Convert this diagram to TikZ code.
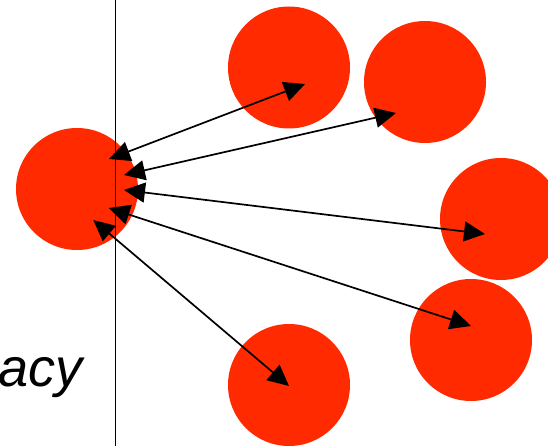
\documentclass[tikz,border=0pt]{standalone}
\usepackage{fontspec}
\setmainfont{Liberation Sans}
\usetikzlibrary{arrows.meta}
\definecolor{ball}{RGB}{255,42,0}
\begin{document}
\begin{tikzpicture}[x=1pt,y=-1pt,
  ball/.style={circle,fill=ball,minimum size=122pt,inner sep=0pt,draw=none},
  link/.style={line width=1.7pt,{Triangle[length=21pt,width=20pt]}-{Triangle[length=21pt,width=20pt]}}]
  \useasboundingbox (0,0) rectangle (548,446);
  \begin{scope}
    \clip (0,0) rectangle (548,446);
    % particles
    \node[ball] (c) at (77,189) {};
    \node[ball] (a) at (289,67.5) {};
    \node[ball] (b) at (425,82) {};
    \node[ball] (r) at (501,219) {};
    \node[ball] (d) at (471,340) {};
    \node[ball] (e) at (289,385) {};
    % wall
    \coordinate (wtop) at (115.7,0);
    \coordinate (wbot) at (115.7,446);
    \draw[line width=0.9pt] (wtop) -- (wbot);
    % label
    \node[anchor=base west,inner sep=0pt,font=\fontsize{54}{62}\selectfont\itshape] (lbl) at (-2,386) {acy};
    % interaction arrows
    \coordinate (c1) at (109,159);  \coordinate (a1) at (305,84);
    \coordinate (c2) at (124,175);  \coordinate (b1) at (396,113);
    \coordinate (c3) at (124,190);  \coordinate (r1) at (485,234);
    \coordinate (c4) at (108.7,208); \coordinate (d1) at (471,326);
    \coordinate (c5) at (93.3,220); \coordinate (e1) at (289,386);
    \draw[link] (c1) -- (a1);
    \draw[link] (c2) -- (b1);
    \draw[link] (c3) -- (r1);
    \draw[link] (c4) -- (d1);
    \draw[link] (c5) -- (e1);
  \end{scope}
\end{tikzpicture}
\end{document}
